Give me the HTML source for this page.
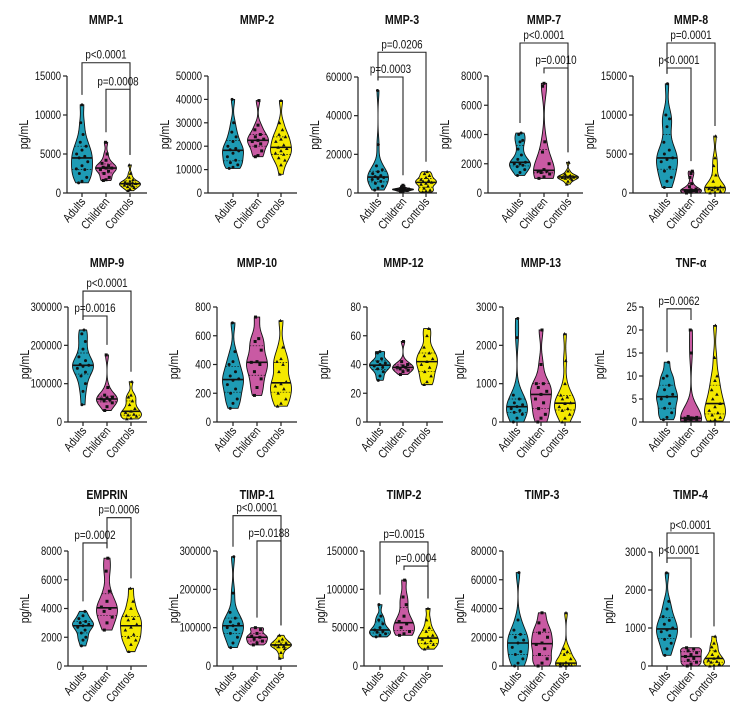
<!DOCTYPE html>
<html><head><meta charset="utf-8"><style>
html,body{margin:0;padding:0;background:#fff;}
svg{display:block;font-family:"Liberation Sans Narrow","Liberation Sans",sans-serif;}
</style></head><body>
<svg id="chart" width="756" height="720" viewBox="0 0 756 720" xmlns="http://www.w3.org/2000/svg"></svg>
<script>
const panelTitles=["MMP-1","MMP-2","MMP-3","MMP-7","MMP-8","MMP-9","MMP-10","MMP-12","MMP-13","TNF-α","EMPRIN","TIMP-1","TIMP-2","TIMP-3","TIMP-4"];
const groupNames=["Adults","Children","Controls"];
const yMax=[15000,50000,60000,8000,15000,300000,800,80,3000,25,8000,300000,150000,80000,3000];
const yStep=[5000,10000,20000,2000,5000,100000,200,20,1000,5,2000,100000,50000,20000,1000];
const adultsData=[
[1300,1500,2000,2500,3000,3100,3500,4000,4500,4700,5000,5500,6000,6500,7500,9000,11300],
[10500,11000,12000,13000,14000,15500,17000,18000,18500,19000,20000,22000,24000,26000,30000,40000],
[1500,2500,3500,5000,6000,7000,7500,8000,8500,9000,10000,11000,12000,14000,25000,53000],
[1200,1400,1600,1800,1900,2000,2000,2100,2300,2600,3000,3500,3600,4000,4100],
[700,1500,2000,2800,3300,4000,4300,4500,5000,5500,6500,8500,9500,10000,14000],
[45000,80000,100000,120000,130000,140000,145000,148000,150000,160000,170000,190000,210000,230000,240000],
[95,130,160,200,230,260,290,300,320,350,400,420,490,690],
[29,32,35,37,38,39,40,41,42,44,48,49],
[0,100,200,250,300,350,400,450,500,600,700,2200,2700],
[0.5,1,2,3,4,5,5.5,6,7,8,9.5,10,13],
[1400,1800,2000,2300,2500,2700,2800,2900,3000,3100,3300,3500,3800],
[48000,60000,75000,85000,95000,100000,105000,110000,115000,125000,140000,190000,285000],
[38000,40000,42000,44000,45000,47000,50000,55000,60000,65000,80000],
[0,2000,5000,8000,10000,13000,16000,18000,20000,22000,25000,32000,65000],
[280,450,600,700,800,900,950,1000,1100,1200,1300,1500,1700,2450]];
const childrenData=[
[1600,1700,2000,2500,2800,3000,3200,3200,3300,3500,3800,4200,5000,6500],
[15500,16000,18000,20000,21000,22000,22500,23000,24000,25000,27000,29000,39500],
[800,1000,1300,1500,1700,1800,1900,2000,2200,2500,3000,4000],
[1000,1100,1300,1400,1500,1500,1600,2000,2800,3500,7300,7500],
[0,100,200,200,300,300,400,500,800,1200,2000,2500,2800],
[30000,40000,50000,55000,58000,60000,62000,65000,70000,90000,175000],
[185,240,300,350,400,415,420,500,560,580,730],
[33,35,36,37,38,38,39,40,42,56],
[0,100,200,350,500,600,720,800,900,1000,1000,1500,2400],
[0.2,0.5,0.6,0.7,0.8,0.8,0.9,1,1.2,15,20],
[2500,3000,3400,3800,4000,4100,4500,5200,6600,7500],
[55000,60000,65000,70000,75000,78000,85000,95000,100000],
[40000,42000,45000,50000,55000,58000,65000,80000,90000,112000],
[0,2000,5000,8000,12000,15000,16000,20000,23000,25000,30000,37000],
[0,50,100,150,200,250,300,350,400,450,480]];
const controlsData=[
[300,500,700,800,900,1000,1100,1200,1200,1300,1400,1500,1700,2000,2500,3600],
[8000,12000,14000,15000,16500,17000,18000,19000,19500,20500,22000,23000,24000,25000,27000,30000,39500],
[500,1000,1500,2500,3500,4500,5000,5500,6000,6500,7000,8000,9000,10000,11000],
[600,800,900,1000,1000,1050,1100,1100,1150,1200,1300,1500,2100],
[0,100,200,400,500,600,700,800,1500,2300,3500,4500,7300],
[8000,10000,15000,18000,20000,25000,28000,35000,45000,55000,65000,70000,105000],
[110,130,160,200,230,250,265,280,350,400,420,440,520,705],
[26,28,32,35,38,40,42,44,46,48,52,60,65],
[0,100,200,300,350,400,480,500,600,650,700,1000,1600,2300],
[0.2,0.5,1,1.5,2,2.5,3.3,4,5,6,7,9,10,14,21],
[1000,1500,1800,2000,2200,2500,2700,2900,3200,3300,3500,4000,4500,5400],
[20000,35000,45000,50000,52000,55000,57000,60000,65000,70000,80000],
[22000,25000,28000,30000,33000,35000,38000,40000,45000,50000,60000,75000],
[0,200,500,800,1000,1500,2500,5000,8000,10000,12000,37000],
[0,20,50,100,120,150,200,250,300,400,500,600,780]];
const bracketPanel=[0,0,2,2,3,3,4,4,5,5,9,10,10,11,11,12,12,14,14];
const bracketFrom=[0,1,0,0,0,1,0,0,0,0,0,1,0,0,1,0,1,0,0];
const bracketTo=[2,2,2,1,2,2,2,1,2,1,1,2,1,2,2,2,2,2,1];
const bracketLevel=[16700,13300,72800,60000,10256,8547,19230,16026,341700,276500,24.6,10316,8561,392100,326300,161800,130300,3500,2842];
const bracketLabel=["p<0.0001","p=0.0008","p=0.0206","p=0.0003","p<0.0001","p=0.0010","p=0.0001","p<0.0001","p<0.0001","p=0.0016","p=0.0062","p=0.0006","p=0.0002","p<0.0001","p=0.0188","p=0.0015","p=0.0004","p<0.0001","p<0.0001"];

const L=[
{ax:67,c:[82,106,130],end:147,top:76,bot:193,ty:24},
{ax:208,c:[233,258,281],end:297,top:76,bot:193,ty:24},
{ax:358,c:[378,403,426],end:437,top:77,bot:193,ty:24},
{ax:488,c:[520,544,568],end:583,top:76,bot:193,ty:24},
{ax:633,c:[667,691,715],end:730,top:76,bot:193,ty:24},
{ax:68,c:[83,107,131],end:147,top:307,bot:422,ty:267},
{ax:217,c:[233,257,281],end:297,top:307,bot:422,ty:267},
{ax:367,c:[380,403,427],end:443,top:307,bot:422,ty:267},
{ax:503,c:[517,541,565],end:581,top:307,bot:422,ty:267},
{ax:643,c:[667,691,715],end:730,top:307,bot:422,ty:267},
{ax:68,c:[83,107,131],end:147,top:551,bot:666,ty:499},
{ax:217,c:[233,257,281],end:297,top:551,bot:666,ty:499},
{ax:364,c:[380,404,428],end:443,top:551,bot:666,ty:499},
{ax:503,c:[518,542,566],end:581,top:551,bot:666,ty:499},
{ax:652,c:[667,691,714],end:730,top:552,bot:666,ty:499}];
const colors=["#1e9bb4","#c95aa3","#f4e900"];
const SX=0.82;
const NS="http://www.w3.org/2000/svg";
const svg=document.getElementById("chart");
function mk(tag,attrs,parent){const e=document.createElementNS(NS,tag);for(const k in attrs)e.setAttribute(k,attrs[k]);(parent||svg).appendChild(e);return e;}
function txt(parent,x,y,rot,anchor,size,weight,s,sx){
  const e=mk("text",{x:0,y:0,"text-anchor":anchor,"font-size":size,"font-weight":weight,fill:"#111",transform:`translate(${x},${y}) rotate(${rot}) scale(${sx||SX},1)`},parent);
  e.textContent=s;return e;}
function quant(s,p){const pos=(s.length-1)*p,lo=Math.floor(pos),hi=Math.ceil(pos);return s[lo]+(s[hi]-s[lo])*(pos-lo);}

for(let p=0;p<15;p++){
  const lay=L[p];
  const g=mk("g",{});
  
  
  const y=v=>lay.bot-(v/yMax[p])*(lay.bot-lay.top);
  const cx=(lay.c[0]+lay.c[2])/2;
  const t=txt(g,cx,lay.ty,0,"middle","12.5","bold",panelTitles[p],0.85);
  
  
  const ya=mk("line",{x1:lay.ax,y1:lay.top,x2:lay.ax,y2:lay.bot,stroke:"#222","stroke-width":"1.2"},g);
  
  
  const xa=mk("line",{x1:lay.ax,y1:lay.bot,x2:lay.end,y2:lay.bot,stroke:"#222","stroke-width":"1.2"},g);
  
  
  for(let v=0;v<=yMax[p]+1e-9;v+=yStep[p]){
    mk("line",{x1:lay.ax-4,y1:y(v),x2:lay.ax,y2:y(v),stroke:"#222","stroke-width":"1.2"},g);
    const tl=txt(g,lay.ax-6,y(v)+4,0,"end","11.5","normal",String(v));
    
    
  }
  const yl=txt(g,lay.ax-39,(lay.top+lay.bot)/2,-90,"middle","12.5","normal","pg/mL",0.85);
  
  
  const sets=[adultsData[p],childrenData[p],controlsData[p]];
  for(let k=0;k<3;k++){
    const x0=lay.c[k];
    mk("line",{x1:x0,y1:lay.bot,x2:x0,y2:lay.bot+4,stroke:"#222","stroke-width":"1.2"},g);
    const xl=txt(g,x0+4,lay.bot+9,-50,"end","12","normal",groupNames[k]);
    
    
    const d=sets[k].slice().sort((a,b)=>a-b);
    const n=d.length,mn=d[0],mx=d[n-1],range=Math.max(mx-mn,1e-9);
    const mean=d.reduce((a,b)=>a+b,0)/n;
    const sd=Math.sqrt(d.reduce((a,b)=>a+(b-mean)*(b-mean),0)/n);
    const h=Math.max(0.9*sd*Math.pow(n,-0.2)*0.7,range*0.06);
    const N=50,dens=[];
    for(let i=0;i<=N;i++){const v=mn+range*i/N;let s=0;for(const q of d)s+=Math.exp(-0.5*((v-q)/h)**2);dens.push([v,s]);}
    const dm=Math.max(...dens.map(e=>e[1]));
    const W=10.5;
    const hw=v=>{let s=0;for(const q of d)s+=Math.exp(-0.5*((v-q)/h)**2);return s/dm*W;};
    let path="";
    dens.forEach((e,i)=>{path+=(i?"L":"M")+(x0+e[1]/dm*W).toFixed(2)+","+y(e[0]).toFixed(2);});
    for(let i=N;i>=0;i--){path+="L"+(x0-dens[i][1]/dm*W).toFixed(2)+","+y(dens[i][0]).toFixed(2);}
    path+="Z";
    const vp=mk("path",{d:path,fill:colors[k],stroke:"#111","stroke-width":"0.9"},g);
    
    
    [0.25,0.75].forEach(qq=>{const v=quant(d,qq),w=hw(v);
      mk("line",{x1:x0-w,y1:y(v),x2:x0+w,y2:y(v),stroke:"#111","stroke-width":"0.7","stroke-dasharray":"1.5,1.5"},g);});
    const md=quant(d,0.5),mw=hw(md);
    const ml=mk("line",{x1:x0-mw,y1:y(md),x2:x0+mw,y2:y(md),stroke:"#111","stroke-width":"1.6"},g);
    
    
    d.forEach((v,i)=>{
      const j=(((i*7)%5)-2)/2*hw(v)*0.55;
      const px=x0+j,py=y(v);
      let m;
      if(k===0)m=mk("circle",{cx:px,cy:py,r:1.5,fill:"#111"},g);
      else if(k===1)m=mk("rect",{x:px-1.5,y:py-1.5,width:3,height:3,fill:"#111"},g);
      else m=mk("path",{d:`M${px},${py-1.8}L${px+1.8},${py+1.4}L${px-1.8},${py+1.4}Z`,fill:"#111"},g);
      
      
    });
  }
}
for(let b=0;b<bracketPanel.length;b++){
  const p=bracketPanel[b],lay=L[p];
  const y=v=>lay.bot-(v/yMax[p])*(lay.bot-lay.top);
  const sets=[adultsData[p],childrenData[p],controlsData[p]];
  const xa=lay.c[bracketFrom[b]],xb=lay.c[bracketTo[b]];
  const yl=y(bracketLevel[b]);
  const ya=y(Math.max(...sets[bracketFrom[b]]))-10,yb=y(Math.max(...sets[bracketTo[b]]))-10;
  const br=mk("path",{d:`M${xa},${ya}L${xa},${yl}L${xb},${yl}L${xb},${yb}`,fill:"none",stroke:"#222","stroke-width":"1.1"});
  
  
  const tx=txt(svg,(xa+xb)/2,yl-4,0,"middle","12","normal",bracketLabel[b]);
  
  
}
</script>
</body></html>
